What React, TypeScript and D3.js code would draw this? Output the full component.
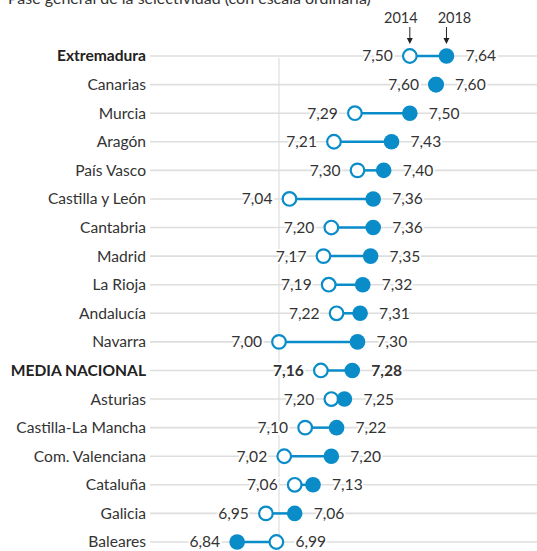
import * as d3 from "d3";
import React from "react";

const regions = [
  "Extremadura", "Canarias", "Murcia", "Aragón", "País Vasco", "Castilla y León",
  "Cantabria", "Madrid", "La Rioja", "Andalucía", "Navarra", "MEDIA NACIONAL",
  "Asturias", "Castilla-La Mancha", "Com. Valenciana", "Cataluña", "Galicia", "Baleares",
]
const v2014 = [7.50, 7.60, 7.29, 7.21, 7.30, 7.04, 7.20, 7.17, 7.19, 7.22, 7.00, 7.16, 7.20, 7.10, 7.02, 7.06, 6.95, 6.99]
const v2018 = [7.64, 7.60, 7.50, 7.43, 7.40, 7.36, 7.36, 7.35, 7.32, 7.31, 7.30, 7.28, 7.25, 7.22, 7.20, 7.13, 7.06, 6.84]
const boldRows = ["Extremadura", "MEDIA NACIONAL"]
const years = ["2014", "2018"]

const W = 537
const H = 551
const blue = "#0a8cc8"
const textColor = "#333"
const font = "Lato, 'Open Sans', sans-serif"

const fmt = (v: number) => v.toFixed(2).replace(".", ",")

export default function App() {
  const x = d3.scaleLinear().domain([7.0, 7.6]).range([279, 436])
  const y = d3.scalePoint<string>().domain(regions).range([56, 542])
  const r = 7

  return (
    <svg width={W} height={H} style={{ position: "absolute", left: 0, top: 0, background: "#fff" }} fontFamily={font}>
      <text x={8} y={4} fontSize={16} fill={textColor}>Pase general de la selectividad (con escala ordinaria)</text>

      {/* gridlines */}
      {regions.map(d => (
        <line key={d} x1={150} x2={W} y1={y(d)} y2={y(d)} stroke="#dedede" strokeWidth={1.6} />
      ))}
      <line x1={x(7.0)} x2={x(7.0)} y1={58} y2={H} stroke="#dedede" strokeWidth={1.2} />

      {/* legend: arrows point at the first row's dots */}
      {years.map((yr, j) => {
        const cx = x(j === 0 ? v2014[0] : v2018[0])
        const tx = j === 0 ? cx - 9 : cx + 8
        return (
          <g key={yr}>
            <text x={tx} y={23} textAnchor="middle" fontSize={14.5} fill={textColor}>{yr}</text>
            <line x1={cx} x2={cx} y1={27} y2={41} stroke="#222" strokeWidth={1} />
            <path d={`M${cx - 3},${38} L${cx + 3},${38} L${cx},${44} Z`} fill="#222" />
          </g>
        )
      })}

      {regions.map((d, i) => {
        const a = v2014[i]
        const b = v2018[i]
        const cy = y(d) as number
        const bold = boldRows.includes(d)
        const media = d === "MEDIA NACIONAL"
        const lo = Math.min(a, b)
        const hi = Math.max(a, b)
        return (
          <g key={d}>
            <text x={146} y={cy} dy="0.35em" textAnchor="end" fontSize={15.6} fill={bold ? "#222" : textColor} fontWeight={bold ? 700 : 400}>{d}</text>
            <line x1={x(a)} x2={x(b)} y1={cy} y2={cy} stroke={blue} strokeWidth={2.5} />
            <circle cx={x(a)} cy={cy} r={r - 0.2} fill="#fff" stroke={blue} strokeWidth={2.2} />
            <circle cx={x(b)} cy={cy} r={r + 0.8} fill={blue} />
            <text x={x(lo) - 17} y={cy} dy="0.35em" textAnchor="end" fontSize={15.6} fill={textColor}
              fontWeight={media ? 700 : 400} stroke="#fff" strokeWidth={4} paintOrder="stroke">{fmt(lo)}</text>
            <text x={x(hi) + 19} y={cy} dy="0.35em" textAnchor="start" fontSize={15.6} fill={textColor}
              fontWeight={media ? 700 : 400} stroke="#fff" strokeWidth={4} paintOrder="stroke">{fmt(hi)}</text>
          </g>
        )
      })}
    </svg>
  )
}
